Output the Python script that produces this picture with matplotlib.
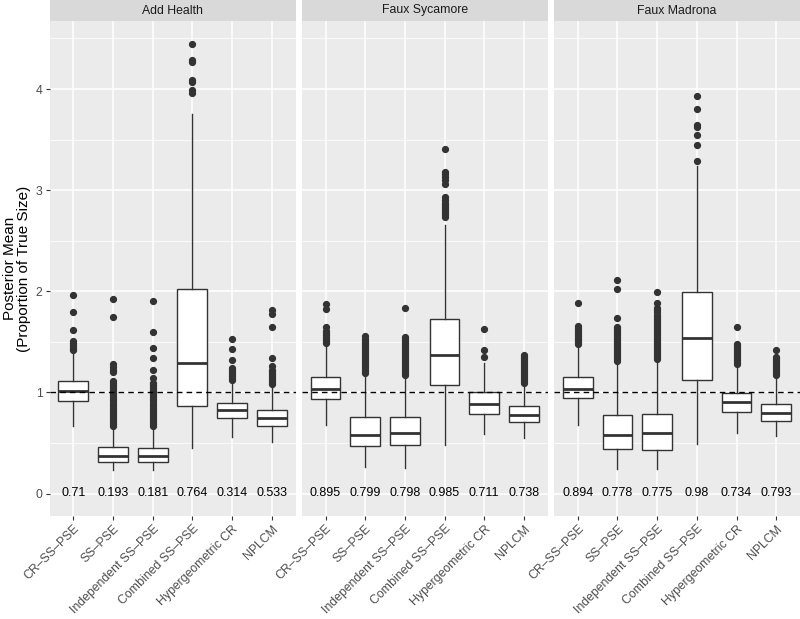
import matplotlib
matplotlib.use("Agg")
import matplotlib.pyplot as plt

plt.rcParams["font.family"] = ["Liberation Sans", "DejaVu Sans"]

methods = ["CR\u2013SS\u2013PSE", "SS\u2013PSE", "Independent SS\u2013PSE",
           "Combined SS\u2013PSE", "Hypergeometric CR", "NPLCM"]
panels = ["Add Health", "Faux Sycamore", "Faux Madrona"]

# box summaries, one row per panel
q1 = [[0.91, 0.314, 0.314, 0.865, 0.746, 0.663],
      [0.93, 0.465, 0.475, 1.076, 0.79, 0.706],
      [0.94, 0.44, 0.43, 1.126, 0.805, 0.72]]
med = [[1.013, 0.37, 0.37, 1.29, 0.825, 0.746],
       [1.03, 0.58, 0.60, 1.366, 0.888, 0.772],
       [1.03, 0.574, 0.597, 1.535, 0.90, 0.795]]
q3 = [[1.116, 0.458, 0.452, 2.02, 0.898, 0.825],
      [1.15, 0.755, 0.752, 1.73, 1.0, 0.864],
      [1.15, 0.78, 0.79, 1.99, 0.99, 0.89]]
whislo = [[0.67, 0.235, 0.235, 0.45, 0.555, 0.51],
          [0.68, 0.26, 0.25, 0.48, 0.584, 0.55],
          [0.68, 0.245, 0.245, 0.49, 0.597, 0.564]]
whishi = [[1.40, 0.65, 0.65, 3.75, 1.10, 1.06],
          [1.47, 1.175, 1.15, 2.66, 1.29, 1.086],
          [1.455, 1.29, 1.31, 3.24, 1.245, 1.18]]

outliers = [
    [[1.96, 1.79, 1.62, 1.51, 1.49, 1.47, 1.45, 1.43, 1.42],
     [1.92, 1.75, 1.28, 1.25, 1.22, 1.20, 1.11, 1.09, 1.07, 1.05, 1.03, 1.01,
      0.99, 0.97, 0.95, 0.93, 0.91, 0.89, 0.87, 0.85, 0.83, 0.81, 0.79, 0.77,
      0.75, 0.73, 0.71, 0.69, 0.67],
     [1.90, 1.60, 1.44, 1.34, 1.22, 1.14, 1.09, 1.07, 1.05, 1.03, 1.01, 0.99,
      0.97, 0.95, 0.93, 0.91, 0.89, 0.87, 0.85, 0.83, 0.81, 0.79, 0.77, 0.75,
      0.73, 0.71, 0.69, 0.67],
     [4.45, 4.29, 4.27, 4.09, 4.07, 3.99, 3.96],
     [1.53, 1.43, 1.32, 1.245, 1.22, 1.20, 1.18, 1.16, 1.14, 1.12],
     [1.81, 1.78, 1.65, 1.34, 1.26, 1.22, 1.20, 1.18, 1.16, 1.14, 1.12, 1.10,
      1.08]],
    [[1.87, 1.82, 1.65, 1.61, 1.59, 1.57, 1.55, 1.53, 1.51, 1.49],
     [1.56, 1.53, 1.51, 1.49, 1.47, 1.45, 1.43, 1.41, 1.39, 1.37, 1.35, 1.33,
      1.31, 1.29, 1.27, 1.25, 1.23, 1.21, 1.19],
     [1.83, 1.55, 1.53, 1.51, 1.49, 1.47, 1.45, 1.43, 1.41, 1.39, 1.37, 1.35,
      1.33, 1.31, 1.29, 1.27, 1.25, 1.23, 1.21, 1.19, 1.17],
     [3.41, 3.18, 3.16, 3.13, 3.10, 3.06, 2.93, 2.90, 2.87, 2.85, 2.83, 2.81,
      2.79, 2.77, 2.75, 2.73],
     [1.63, 1.42, 1.35],
     [1.37, 1.35, 1.33, 1.31, 1.29, 1.27, 1.25, 1.23, 1.21, 1.19, 1.17, 1.15,
      1.13, 1.11, 1.09]],
    [[1.88, 1.66, 1.64, 1.62, 1.60, 1.58, 1.56, 1.54, 1.52, 1.50, 1.48],
     [2.11, 2.02, 1.74, 1.65, 1.63, 1.61, 1.59, 1.57, 1.55, 1.53, 1.51, 1.49,
      1.47, 1.45, 1.43, 1.41, 1.39, 1.37, 1.35, 1.33, 1.31],
     [1.99, 1.88, 1.83, 1.81, 1.79, 1.77, 1.75, 1.73, 1.71, 1.69, 1.67, 1.65,
      1.63, 1.61, 1.59, 1.57, 1.55, 1.53, 1.51, 1.49, 1.47, 1.45, 1.43, 1.41,
      1.39, 1.37, 1.35, 1.33],
     [3.93, 3.80, 3.64, 3.62, 3.55, 3.45, 3.29],
     [1.65, 1.48, 1.46, 1.44, 1.42, 1.40, 1.38, 1.36, 1.34, 1.32, 1.30, 1.28],
     [1.42, 1.35, 1.33, 1.31, 1.29, 1.27, 1.25, 1.23, 1.21, 1.19, 1.17]],
]

coverage = [["0.71", "0.193", "0.181", "0.764", "0.314", "0.533"],
            ["0.895", "0.799", "0.798", "0.985", "0.711", "0.738"],
            ["0.894", "0.778", "0.775", "0.98", "0.734", "0.793"]]

W, H = 800, 619
fig = plt.figure(figsize=(W / 100, H / 100), dpi=100)

edge = "#333333"
left_px = [49.5, 301.7, 554.0]
panel_w = 246.0
top_px, bottom_px, strip_px = 21.0, 516.0, 21.0
positions = list(range(1, len(methods) + 1))

for i, name in enumerate(panels):
    x0 = left_px[i] / W
    ax = fig.add_axes([x0, (H - bottom_px) / H, panel_w / W,
                       (bottom_px - top_px) / H])
    ax.set_facecolor("#ebebeb")
    for s in ax.spines.values():
        s.set_visible(False)

    stats = []
    for j in range(len(methods)):
        stats.append(dict(q1=q1[i][j], med=med[i][j], q3=q3[i][j],
                          whislo=whislo[i][j], whishi=whishi[i][j],
                          fliers=outliers[i][j]))
    ax.bxp(stats, positions=positions, widths=0.75, showcaps=False,
           patch_artist=True,
           boxprops=dict(facecolor="white", edgecolor=edge, linewidth=1.0),
           medianprops=dict(color=edge, linewidth=2.0),
           whiskerprops=dict(color=edge, linewidth=1.0),
           flierprops=dict(marker="o", markerfacecolor=edge,
                           markeredgecolor=edge, markersize=4.2))

    ax.axhline(1, color="black", linestyle=(0, (4, 3)), linewidth=1.0, zorder=4)
    for j, lab in enumerate(coverage[i]):
        ax.text(positions[j], 0, lab, ha="center", va="center",
                fontsize=9, color="black", zorder=5)

    ax.set_xlim(0.4, 6.6)
    ax.set_ylim(-0.2225, 4.6725)
    ax.set_yticks([0, 1, 2, 3, 4])
    ax.set_yticks([0.5, 1.5, 2.5, 3.5, 4.5], minor=True)
    ax.set_xticks(positions)
    ax.set_xticklabels(methods, rotation=45, ha="right",
                       rotation_mode="anchor", fontsize=8.8, color="#4d4d4d")
    ax.grid(which="major", color="white", linewidth=1.1, zorder=0)
    ax.grid(which="minor", axis="y", color="white", linewidth=0.55, zorder=0)
    ax.set_axisbelow(True)
    ax.tick_params(axis="both", which="major", length=3, width=0.8,
                   color=edge, labelcolor="#4d4d4d", labelsize=8.8, pad=2)
    ax.tick_params(axis="y", which="minor", length=0)
    if i > 0:
        ax.tick_params(axis="y", which="major", length=0, labelleft=False)

    sax = fig.add_axes([x0, (H - strip_px) / H, panel_w / W, strip_px / H])
    sax.set_facecolor("#d9d9d9")
    sax.set_xticks([])
    sax.set_yticks([])
    for s in sax.spines.values():
        s.set_visible(False)
    sax.text(0.5, 0.5, name, ha="center", va="center", fontsize=8.8,
             color="#1a1a1a", transform=sax.transAxes)

fig.text(17 / W, 1 - ((top_px + bottom_px) / 2) / H,
         "Posterior Mean\n(Proportion of True Size)", rotation=90,
         ha="center", va="center", multialignment="center",
         fontsize=11, color="black", linespacing=1.05)

fig.savefig("out.png", dpi=100)
